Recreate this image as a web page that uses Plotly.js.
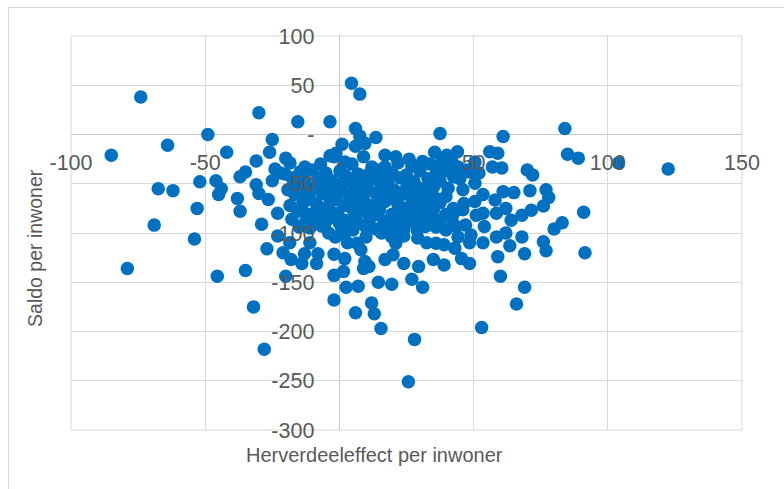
<!DOCTYPE html>
<html><head><meta charset="utf-8">
<script src="https://cdn.plot.ly/plotly-3.0.1.min.js"></script>
<style>
html,body{margin:0;padding:0;background:#fff;overflow:hidden;}
#chart{width:784px;height:489px;position:absolute;left:0;top:0;}
#frame{position:absolute;left:8px;top:7px;width:776px;height:482px;border-left:1px solid #d9d9d9;border-top:1px solid #d9d9d9;pointer-events:none;box-sizing:border-box;}
</style>
</head><body><div id="chart"></div><div id="frame"></div>
<script>
// Herverdeeleffect per inwoner (x) — outer / edge points
const herverdeelOuter = [
-85,-74,-64,-49,-42,-30,-25,-26,-20,-31,
-35,-37,-24,-22,-15.5,-3.5,-67.5,-62,-52,-46,
-44,-45,-53,-38,-37,-31,-30,-26.5,-25,-23,
-69,-54,-29,-23,-27,-21,-45.5,-35,-79,-32,
-28,-20,-18.5,-18,-14,-13,-11,-8,-8.5,-10,
-15,-2,1.5,-2,2.5,7,6,12,13,15.5,
28,25.7,9,11,14.5,19.5,27,31,60,69,
66,53,91.5,91,84,85,89,104,122.5,61,
37.5,4.5,7.6,6,7.6,13.6,1,6,9.5,9,
-2,2,17,21,26,31,35.5,40,44,56,
59,57,60.5,48.5,52,70,72,46,50.5,53.5,
50.5,61,65,71,77,78,58,62,76,71.5,
68,46,51,83,80,76,77,69,68,63.5,
62,58.5,53.5,59,48.5,45.5,39,35,32.5,36,
39,43,48.5,49,47,43.5,54,64,37.5,32,
29,19.5,24,29.5,27.5,53.5,58.5,42.5,3,6.5,
5,8,9.5,17,20,21,15.7,7,0,-5,
-4,-1.5,-2,2,4,15,25,35,42.5,36,
30,23,16,40.5,11.4,17,25,37.5,42.5,38,
42,50.5,47,-3.5,-1.3,-7,-14.7
];
// Saldo per inwoner (y) — outer / edge points
const saldoOuter = [
-21,38,-11,0,-18,22,-5,-18,-24,-27,
-38,-43,-35,-39,13,13,-55,-57,-48,-47,
-55,-61,-75,-65,-78,-51,-60,-66,-47,-80,
-92,-106,-91,-103,-116,-120,-144,-138,-136,-175,
-218,-144,-110,-127,-131,-121,-110,-121,-131,-89,
-94,-143,-139,-168,-155,-154,-181,-171,-182,-197,
-208,-251,-136,-134,-150,-152,-147,-155,-144,-155,
-172,-196,-120,-79,6,-20,-24,-29,-35,-2,
1,52,41,6,-1.5,-3,-10,-12,-9,-22.5,
-22.5,-28,-21,-22.5,-25,-27.5,-18,-21,-17.5,-17.5,
-19,-33,-34,-38,-39,-36,-41,-56,-49.5,-61,
-68,-58,-59,-57,-56,-64,-66.5,-75,-72.5,-77,
-82,-76.5,-82,-89.5,-96,-109,-118,-121,-104,-113,
-100,-104,-110,-124,-131,-126,-132.5,-127,-110,-110.5,
-112,-115.5,-110,-102,-92,-93.5,-93.5,-87,-87,-93.5,
-97,-104,-131,-134,-80,-80,-80,-80,-110,-110.5,
-97,-117,-129,-127,-122,-110.5,-100,-90,-90,-88.5,
-100,-104,-121.5,-126,-73,-76.5,-82,-76.5,-75,-65,
-61.5,-61.5,-61.5,-54.5,-39.5,-33,-41,-31,-43,-28.5,
-28,-28,-36,-21.5,-19,-30,-38
];
// dense core (estimated)
const herverdeelCore = [
-18.4,-12.9,4.7,12.1,21.8,27,33.7,44.2,
-20.3,-10.2,-5,0.2,6.9,15.1,19.6,30,36,40.4,
-17.7,-12.9,-8,-2.8,3.2,8.4,13.2,18.1,22.5,27.8,33,37.5,44.9,
-19.2,-14.7,-9.9,-5,0.2,5.4,10.6,15.5,20.3,25.2,30.4,35.2,
-16.6,-11.7,-6.5,-1.3,3.5,8.8,13.6,18.8,27,33,39.7,
-18.4,-13.6,-8.4,-3.5,1.7,6.9,11.7,17,21.8,27,31.9,37.5,46.4,
-15.5,-10.6,-5.8,-0.6,9.1,19.6,30,39.7,
-17.7,-12.5,-8,2,11.4,16.6,21.8,26.3,41.9,
-11,-6.5,0.9,9.9,13.6,18.8,24,36,39.7,
1.7,9.9,24,29.2,44.2,
-14,-6,2,10,17,-16,-7,1,9,17,28,
-14,-3,6,16,24,33,-11,-1,9,21,30,
-14,-4,5,14,24,34,-2,6,14,33,4,29,20
];
const saldoCore = [
-29,-33,-30,-33,-29,-32,-30,-33,
-40,-36,-39,-37,-40,-36,-39,-37,-40,-37,
-44,-48,-45,-47,-44,-48,-45,-47,-44,-48,-45,-47,-45,
-56,-52,-55,-53,-56,-52,-55,-53,-56,-52,-55,-53,
-61,-64,-60,-63,-61,-64,-60,-63,-64,-60,-63,
-72,-69,-71,-68,-72,-69,-72,-68,-71,-69,-72,-69,-70,
-78,-81,-77,-80,-78,-81,-78,-81,
-86,-88,-85,-87,-85,-88,-86,-88,-86,
-95,-93,-96,-94,-96,-93,-96,-94,-97,
-102,-104,-103,-105,-104,
-42,-42,-41,-42,-41,-50,-50,-50,-51,-50,-51,
-58,-58,-58,-57,-58,-57,-66,-66,-66,-66,-67,
-75,-74,-76,-72,-75,-73,-84,-83,-81,-84,-91,-90,-97
];
const herverdeel = herverdeelOuter.concat(herverdeelCore);
const saldo = saldoOuter.concat(saldoCore);

const xTicks = [-100,-50,0,50,100,150];
const xTickText = ['-100','-50','-','50','100','150'];
const yTicks = [100,50,0,-50,-100,-150,-200,-250,-300];
const yTickText = ['100','50','-','-50','-100','-150','-200','-250','-300'];
const xTitle = 'Herverdeeleffect per inwoner';
const yTitle = 'Saldo per inwoner';

const FONT = '"Liberation Sans", Arial, sans-serif';
const GREY = '#595959';

const trace = {
  type:'scatter', mode:'markers', x:herverdeel, y:saldo,
  marker:{color:'#0070C0', size:13.5, line:{width:0}},
  hoverinfo:'skip'
};

const layout = {
  width:784, height:489,
  margin:{l:71, r:42, t:36, b:59, pad:0},
  paper_bgcolor:'rgba(0,0,0,0)', plot_bgcolor:'#fff',
  showlegend:false,
  font:{family:FONT, color:GREY},
  xaxis:{
    range:[-100,150], tickmode:'array', tickvals:xTicks, ticktext:xTickText,
    showgrid:true, gridcolor:'#d9d9d9', gridwidth:1,
    zeroline:true, zerolinecolor:'#c8c8c8', zerolinewidth:1,
    anchor:'free', position:0.75, ticks:'', showline:false,
    tickfont:{family:FONT, size:21.5, color:GREY}, ticklabelstandoff:13,
    automargin:false, fixedrange:true
  },
  yaxis:{
    range:[-300,100], tickmode:'array', tickvals:yTicks, ticktext:yTickText,
    showgrid:true, gridcolor:'#d9d9d9', gridwidth:1,
    zeroline:true, zerolinecolor:'#c8c8c8', zerolinewidth:1,
    anchor:'free', position:0.4, ticks:'', showline:false,
    tickfont:{family:FONT, size:21.5, color:GREY}, ticklabelstandoff:25,
    automargin:false, fixedrange:true
  },
  shapes:[{type:'rect', xref:'paper', yref:'paper', x0:0, x1:1, y0:0, y1:1,
    line:{color:'#d9d9d9', width:1}, layer:'below'}],
  annotations:[
    {text:xTitle, xref:'paper', yref:'paper', x:0.4516, y:-0.0635,
     xanchor:'center', yanchor:'middle', showarrow:false,
     font:{family:FONT, size:20, color:GREY}},
    {text:yTitle, xref:'paper', yref:'paper', x:-0.0537, y:0.462,
     xanchor:'center', yanchor:'middle', showarrow:false, textangle:-90,
     font:{family:FONT, size:19.5, color:GREY}}
  ]
};

Plotly.newPlot('chart', [trace], layout, {staticPlot:true, displayModeBar:false});
</script></body></html>
